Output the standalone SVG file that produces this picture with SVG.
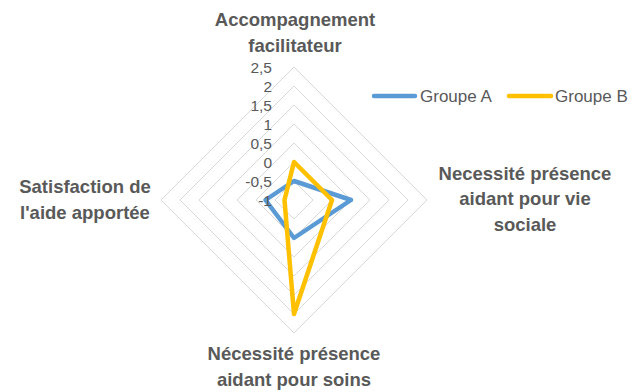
<svg xmlns="http://www.w3.org/2000/svg" width="634" height="392" viewBox="0 0 634 392">
<style>
.bg{fill:#ffffff}
.grid{fill:none;stroke:#d9d9d9;stroke-width:1}
.ser{fill:none;stroke-width:4.5;stroke-linejoin:round;stroke-linecap:round}
.a{stroke:#5b9bd5}
.b{stroke:#ffc000}
.tick{font-family:"Liberation Sans",Arial,sans-serif;font-size:15.5px;fill:#595959;text-anchor:end}
.cat{font-family:"Liberation Sans",Arial,sans-serif;font-size:18.5px;font-weight:bold;fill:#595959;text-anchor:middle}
.leg{font-family:"Liberation Sans",Arial,sans-serif;font-size:17px;fill:#595959}
</style>
<rect class="bg" x="0" y="0" width="634" height="392"/>
<g id="grid">
<polygon class="grid" points="294,181 313,200 294,219 275,200"/>
<polygon class="grid" points="294,162 332,200 294,238 256,200"/>
<polygon class="grid" points="294,143 351,200 294,257 237,200"/>
<polygon class="grid" points="294,124 370,200 294,276 218,200"/>
<polygon class="grid" points="294,105 389,200 294,295 199,200"/>
<polygon class="grid" points="294,86 408,200 294,314 180,200"/>
<polygon class="grid" points="294,67 427,200 294,333 161,200"/>
</g>
<g id="connectors">
<polygon id="serie-groupe-a" class="ser a" points="294,181 351,200 294,238 265.5,200"/>
<polygon id="serie-groupe-b" class="ser b" points="294,162 332,200 294,314 284.5,200"/>
</g>
<g id="axis-ticks">
<text class="tick" x="272" y="73">2,5</text>
<text class="tick" x="272" y="92">2</text>
<text class="tick" x="272" y="111">1,5</text>
<text class="tick" x="272" y="130">1</text>
<text class="tick" x="272" y="149">0,5</text>
<text class="tick" x="272" y="168">0</text>
<text class="tick" x="272" y="187">-0,5</text>
<text class="tick" x="272" y="206">-1</text>
</g>
<g id="node-accompagnement">
<text class="cat" x="295" y="26">Accompagnement</text>
<text class="cat" x="295" y="52">facilitateur</text>
</g>
<g id="node-vie-sociale">
<text class="cat" x="525" y="180">Necessité présence</text>
<text class="cat" x="525" y="205">aidant pour vie</text>
<text class="cat" x="525" y="231">sociale</text>
</g>
<g id="node-soins">
<text class="cat" x="294" y="360">Nécessité présence</text>
<text class="cat" x="294" y="386">aidant pour soins</text>
</g>
<g id="node-satisfaction">
<text class="cat" x="85" y="193">Satisfaction de</text>
<text class="cat" x="85" y="219">l'aide apportée</text>
</g>
<g id="legend">
<line x1="374" y1="96" x2="415" y2="96" class="ser a"/>
<text class="leg" x="420" y="102">Groupe A</text>
<line x1="509" y1="96" x2="551" y2="96" class="ser b"/>
<text class="leg" x="555" y="102">Groupe B</text>
</g>
</svg>
